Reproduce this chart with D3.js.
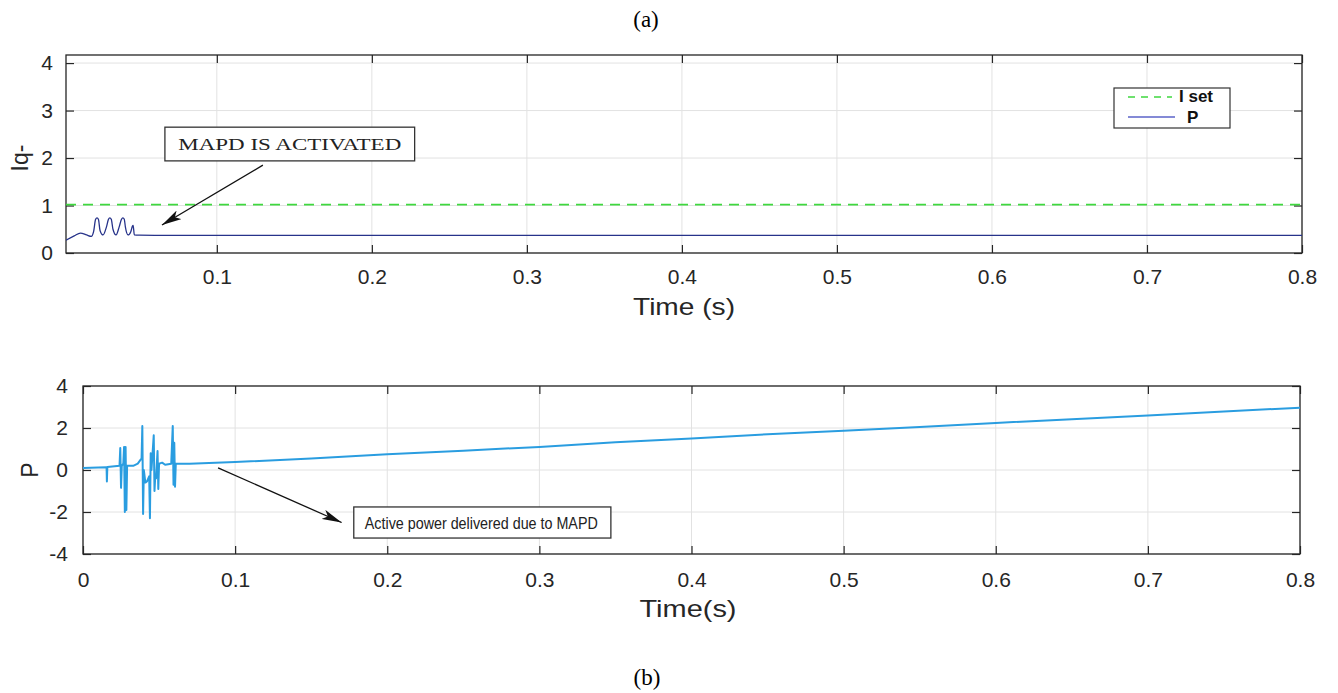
<!DOCTYPE html>
<html>
<head>
<meta charset="utf-8">
<script src="https://cdn.jsdelivr.net/npm/d3@7"></script>
<style>
  body { margin: 0; background: #fff; }
  svg { display: block; }
</style>
</head>
<body>
<div id="chart"></div>
<script>
// ---- data ----
// (a) Iq- response, blue trace
const iqTime   = [0.0027, 0.008, 0.012, 0.016, 0.019, 0.0205, 0.0218, 0.0227, 0.0236, 0.0247, 0.0266, 0.0288, 0.0301, 0.031, 0.0319, 0.033, 0.035, 0.037, 0.0385, 0.0394, 0.0403, 0.041, 0.0427, 0.0445, 0.0455, 0.046, 0.0468, 0.05, 0.06, 0.1, 0.3, 0.5, 0.8];
const iqValues = [0.27, 0.36, 0.42, 0.38, 0.35, 0.45, 0.71, 0.74, 0.71, 0.47, 0.38, 0.55, 0.71, 0.74, 0.71, 0.5, 0.38, 0.55, 0.71, 0.74, 0.71, 0.55, 0.38, 0.45, 0.56, 0.58, 0.38, 0.375, 0.372, 0.37, 0.37, 0.37, 0.37];
// (a) set value, green dashed
const isetTime   = [0.0027, 0.8];
const isetValues = [1.02, 1.02];
// (b) active power
const pTime = [0, 0.010, 0.0155, 0.0157, 0.0160, 0.024, 0.0245, 0.0250, 0.0255, 0.0265, 0.0270, 0.0275, 0.0280, 0.0285, 0.0290,
  0.033, 0.036, 0.0385, 0.0390, 0.0395, 0.0400, 0.0410, 0.0420, 0.0435, 0.0440, 0.0445, 0.0450, 0.0465, 0.0470, 0.0475,
  0.0480, 0.0490, 0.0495, 0.0500, 0.0520, 0.0540, 0.0580, 0.0590, 0.0595, 0.0600, 0.0605, 0.0610, 0.07,
  0.1, 0.15, 0.2, 0.25, 0.3, 0.35, 0.4, 0.45, 0.5, 0.55, 0.6, 0.65, 0.7, 0.75, 0.8];
const pValues = [0.1, 0.12, 0.13, -0.55, 0.14, 0.2, 1.05, -0.85, 0.2, 0.3, 1.1, -2.0, 1.1, -1.9, 0.2,
  0.2, 0.3, 0.55, 2.1, -2.1, 0.0, -0.6, -0.55, -0.3, -2.3, 0.8, 0.0, 1.65, -1.0, -0.3,
  -0.4, 0.9, -0.9, 0.3, 0.35, 0.25, 0.3, 2.1, -0.7, 1.3, -0.8, 0.3, 0.3,
  0.38, 0.55, 0.75, 0.92, 1.1, 1.32, 1.5, 1.7, 1.87, 2.05, 2.24, 2.42, 2.6, 2.78, 2.97];

const xTicksTop = [0.1, 0.2, 0.3, 0.4, 0.5, 0.6, 0.7, 0.8];
const xTicksBottom = [0, 0.1, 0.2, 0.3, 0.4, 0.5, 0.6, 0.7, 0.8];
const yTicksTop = [0, 1, 2, 3, 4];
const yTicksBottom = [-4, -2, 0, 2, 4];
const legendLabels = ["I set", "P"];

const W = 1338, H = 693;
const sans = "'Liberation Sans', Arial, sans-serif";
const serif = "'Liberation Serif', 'Times New Roman', serif";

const svg = d3.select("#chart").append("svg")
  .attr("width", W).attr("height", H)
  .attr("viewBox", [0, 0, W, H]);

// figure captions
svg.append("text").attr("x", 646).attr("y", 27).attr("text-anchor", "middle")
  .style("font-family", serif).style("font-size", "23px").text("(a)");
svg.append("text").attr("x", 647).attr("y", 685).attr("text-anchor", "middle")
  .style("font-family", serif).style("font-size", "23px").text("(b)");

function drawPanel(opt) {
  const x = d3.scaleLinear().domain(opt.xDomain).range([opt.left, opt.right]);
  const y = d3.scaleLinear().domain(opt.yDomain).range([opt.bottom, opt.top]);
  const g = svg.append("g");

  // grid
  g.append("g").selectAll("line").data(opt.xTicks).join("line")
    .attr("x1", d => x(d)).attr("x2", d => x(d))
    .attr("y1", opt.top).attr("y2", opt.bottom)
    .attr("stroke", "#e2e2e2").attr("stroke-width", 1);
  g.append("g").selectAll("line").data(opt.yTicks).join("line")
    .attr("x1", opt.left).attr("x2", opt.right)
    .attr("y1", d => y(d)).attr("y2", d => y(d))
    .attr("stroke", "#e2e2e2").attr("stroke-width", 1);

  // axes, ticks pointing inward like MATLAB
  const style = sel => {
    sel.select(".domain").remove();
    sel.selectAll(".tick line").attr("stroke", "#262626").attr("stroke-width", 1.2);
    sel.selectAll("text").style("font-family", sans).style("font-size", "21px").attr("fill", "#262626");
  };
  g.append("g").attr("transform", `translate(0,${opt.bottom})`)
    .call(d3.axisBottom(x).tickValues(opt.xTicks).tickFormat(opt.xFormat)
      .tickSizeInner(-8).tickSizeOuter(0).tickPadding(opt.xPad))
    .call(style);
  g.append("g").attr("transform", `translate(0,${opt.top})`)
    .call(d3.axisTop(x).tickValues(opt.xTicks).tickFormat("")
      .tickSizeInner(-8).tickSizeOuter(0))
    .call(style);
  g.append("g").attr("transform", `translate(${opt.left},0)`)
    .call(d3.axisLeft(y).tickValues(opt.yTicks).tickFormat(d => String(d))
      .tickSizeInner(-8).tickSizeOuter(0).tickPadding(opt.yPad))
    .call(style);
  g.append("g").attr("transform", `translate(${opt.right},0)`)
    .call(d3.axisRight(y).tickValues(opt.yTicks).tickFormat("")
      .tickSizeInner(-8).tickSizeOuter(0))
    .call(style);

  g.append("rect")
    .attr("x", opt.left).attr("y", opt.top)
    .attr("width", opt.right - opt.left).attr("height", opt.bottom - opt.top)
    .attr("fill", "none").attr("stroke", "#262626").attr("stroke-width", 1.3);

  // axis labels
  g.append("text").attr("x", opt.xLabelX).attr("y", opt.xLabelY)
    .attr("text-anchor", "middle").style("font-family", sans).style("font-size", "24px")
    .attr("textLength", opt.xLabelLen).attr("lengthAdjust", "spacingAndGlyphs")
    .attr("fill", "#262626").text(opt.xLabel);
  g.append("text")
    .attr("transform", `translate(${opt.yLabelX},${opt.yLabelY}) rotate(-90)`)
    .attr("text-anchor", "middle").style("font-family", sans).style("font-size", "23px")
    .attr("fill", "#262626").text(opt.yLabel);

  return { x, y, g };
}

// ---------- panel (a) ----------
const a = drawPanel({
  xDomain: [0.0027, 0.8], yDomain: [0, 4.17],
  left: 66, right: 1302, top: 55, bottom: 253,
  xTicks: xTicksTop, yTicks: yTicksTop,
  xFormat: d3.format(".1f"), xPad: 16, yPad: 13,
  xLabel: "Time (s)", xLabelX: 684, xLabelY: 315, xLabelLen: 102,
  yLabel: "Iq-", yLabelX: 28, yLabelY: 158
});

svg.append("clipPath").attr("id", "clipA").append("rect")
  .attr("x", 66).attr("y", 55).attr("width", 1236).attr("height", 198);

const iqData = iqTime.map((t, i) => ({ t, v: iqValues[i] }));
const isetData = isetTime.map((t, i) => ({ t, v: isetValues[i] }));

a.g.append("path").datum(isetData)
  .attr("clip-path", "url(#clipA)")
  .attr("fill", "none").attr("stroke", "#3fd83f").attr("stroke-width", 1.8)
  .attr("stroke-dasharray", "10,7")
  .attr("d", d3.line().x(d => a.x(d.t)).y(d => a.y(d.v)));

a.g.append("path").datum(iqData)
  .attr("clip-path", "url(#clipA)")
  .attr("fill", "none").attr("stroke", "#27338a").attr("stroke-width", 1.3)
  .attr("d", d3.line().curve(d3.curveMonotoneX).x(d => a.x(d.t)).y(d => a.y(d.v)));

// legend
const leg = a.g.append("g").attr("transform", "translate(1114,88)");
leg.append("rect").attr("width", 116).attr("height", 40)
  .attr("fill", "#fff").attr("stroke", "#333").attr("stroke-width", 1.2);
leg.append("line").attr("x1", 14).attr("x2", 58).attr("y1", 9).attr("y2", 9)
  .attr("stroke", "#3fd83f").attr("stroke-width", 1.4).attr("stroke-dasharray", "7,6");
leg.append("line").attr("x1", 14).attr("x2", 61).attr("y1", 29).attr("y2", 29)
  .attr("stroke", "#5b63c9").attr("stroke-width", 1.4);
leg.selectAll("text.lab").data(legendLabels).join("text")
  .attr("class", "lab")
  .attr("x", (d, i) => i === 0 ? 65 : 73)
  .attr("y", (d, i) => i === 0 ? 14 : 35)
  .style("font-family", sans).style("font-weight", "bold").style("font-size", "17px")
  .attr("fill", "#111").text(d => d);

// annotation (a)
const defs = svg.append("defs");
defs.append("marker").attr("id", "arrow")
  .attr("viewBox", "0 0 20 10").attr("refX", 20).attr("refY", 5)
  .attr("markerWidth", 20).attr("markerHeight", 10)
  .attr("markerUnits", "userSpaceOnUse").attr("orient", "auto")
  .append("path").attr("d", "M0,0 L20,5 L0,10 L5,5 Z").attr("fill", "#111");

a.g.append("line")
  .attr("x1", a.x(0.1297)).attr("y1", a.y(1.85))
  .attr("x2", a.x(0.0646)).attr("y2", a.y(0.59))
  .attr("stroke", "#111").attr("stroke-width", 1.3).attr("marker-end", "url(#arrow)");
a.g.append("rect")
  .attr("x", a.x(0.0665)).attr("y", a.y(2.65))
  .attr("width", a.x(0.2276) - a.x(0.0665)).attr("height", a.y(1.94) - a.y(2.65))
  .attr("fill", "#fff").attr("stroke", "#333").attr("stroke-width", 1.3);
a.g.append("text")
  .attr("x", (a.x(0.0665) + a.x(0.2276)) / 2).attr("y", a.y(2.3) + 6)
  .attr("text-anchor", "middle").style("font-family", serif).style("font-size", "17px")
  .attr("textLength", 223).attr("lengthAdjust", "spacingAndGlyphs")
  .attr("fill", "#222").text("MAPD IS ACTIVATED");

// ---------- panel (b) ----------
const b = drawPanel({
  xDomain: [0, 0.8], yDomain: [-4, 4],
  left: 83, right: 1300, top: 386, bottom: 554,
  xTicks: xTicksBottom, yTicks: yTicksBottom,
  xFormat: d => d === 0 ? "0" : d3.format(".1f")(d), xPad: 18, yPad: 15,
  xLabel: "Time(s)", xLabelX: 688, xLabelY: 617, xLabelLen: 97,
  yLabel: "P", yLabelX: 38, yLabelY: 470
});

const pData = pTime.map((t, i) => ({ t, v: pValues[i] }));
b.g.append("path").datum(pData)
  .attr("fill", "none").attr("stroke", "#2a9de0").attr("stroke-width", 2)
  .attr("stroke-linejoin", "round")
  .attr("d", d3.line().x(d => b.x(d.t)).y(d => b.y(d.v)));

// annotation (b)
b.g.append("line")
  .attr("x1", b.x(0.0888)).attr("y1", b.y(0.1))
  .attr("x2", b.x(0.170)).attr("y2", b.y(-2.5))
  .attr("stroke", "#111").attr("stroke-width", 1.3).attr("marker-end", "url(#arrow)");
b.g.append("rect")
  .attr("x", b.x(0.178)).attr("y", b.y(-1.76))
  .attr("width", b.x(0.347) - b.x(0.178)).attr("height", b.y(-3.24) - b.y(-1.76))
  .attr("fill", "#fff").attr("stroke", "#333").attr("stroke-width", 1.3);
b.g.append("text")
  .attr("x", b.x(0.178) + 11).attr("y", b.y(-2.5) + 6)
  .style("font-family", sans).style("font-size", "16px")
  .attr("textLength", 233).attr("lengthAdjust", "spacingAndGlyphs")
  .attr("fill", "#222").text("Active power delivered due to MAPD");
</script>
</body>
</html>
